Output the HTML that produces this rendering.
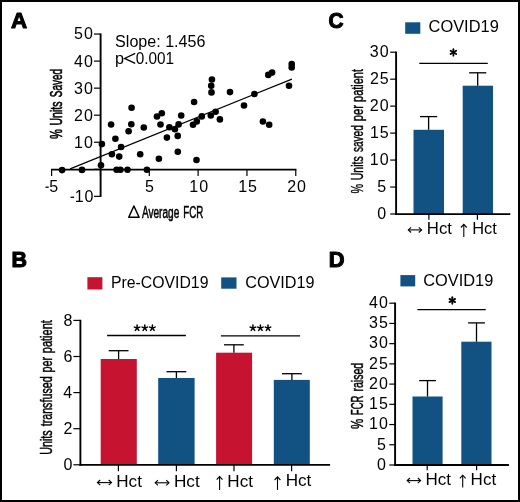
<!DOCTYPE html>
<html><head><meta charset="utf-8"><style>
html,body{margin:0;padding:0;background:#fff;}
svg{display:block;will-change:transform;}
text{font-family:"Liberation Sans", sans-serif;fill:#000;}
</style></head><body>
<svg width="520" height="502" viewBox="0 0 520 502">
<rect x="1" y="1" width="518" height="500" fill="#fff" stroke="#000" stroke-width="2"/>
<text transform="translate(11.00,28.44) scale(0.9894,0.9840)" x="0" y="0" font-size="22.6" font-weight="bold" stroke="#000" stroke-width="1.1" stroke-linejoin="round">A</text>
<text transform="translate(11.49,266.63) scale(0.9520,1.0079)" x="0" y="0" font-size="22.6" font-weight="bold" stroke="#000" stroke-width="1.1" stroke-linejoin="round">B</text>
<text transform="translate(328.59,28.22) scale(0.9226,0.9872)" x="0" y="0" font-size="22.6" font-weight="bold" stroke="#000" stroke-width="1.1" stroke-linejoin="round">C</text>
<text transform="translate(328.67,266.56) scale(0.9684,0.9540)" x="0" y="0" font-size="22.6" font-weight="bold" stroke="#000" stroke-width="1.1" stroke-linejoin="round">D</text>
<line x1="100.60" y1="33.45" x2="100.60" y2="196.95" stroke="#000" stroke-width="1.9" stroke-linecap="butt"/>
<line x1="94.00" y1="34.05" x2="100.60" y2="34.05" stroke="#000" stroke-width="1.2" stroke-linecap="butt"/>
<text x="74.04" y="39.45" font-size="16" letter-spacing="1.0">50</text>
<line x1="94.00" y1="61.10" x2="100.60" y2="61.10" stroke="#000" stroke-width="1.2" stroke-linecap="butt"/>
<text x="74.04" y="66.50" font-size="16" letter-spacing="1.0">40</text>
<line x1="94.00" y1="88.15" x2="100.60" y2="88.15" stroke="#000" stroke-width="1.2" stroke-linecap="butt"/>
<text x="74.04" y="93.55" font-size="16" letter-spacing="1.0">30</text>
<line x1="94.00" y1="115.20" x2="100.60" y2="115.20" stroke="#000" stroke-width="1.2" stroke-linecap="butt"/>
<text x="74.04" y="120.60" font-size="16" letter-spacing="1.0">20</text>
<line x1="94.00" y1="142.25" x2="100.60" y2="142.25" stroke="#000" stroke-width="1.2" stroke-linecap="butt"/>
<text x="74.04" y="147.65" font-size="16" letter-spacing="1.0">10</text>
<line x1="94.00" y1="169.30" x2="100.60" y2="169.30" stroke="#000" stroke-width="1.2" stroke-linecap="butt"/>
<line x1="94.00" y1="196.35" x2="100.60" y2="196.35" stroke="#000" stroke-width="1.2" stroke-linecap="butt"/>
<text x="74.64" y="201.95" font-size="16" letter-spacing="1.0">10</text>
<rect x="70.60" y="196.65" width="3.50" height="1.30" fill="#000"/>
<line x1="51.02" y1="169.60" x2="296.37" y2="169.60" stroke="#000" stroke-width="1.9" stroke-linecap="butt"/>
<line x1="51.62" y1="169.60" x2="51.62" y2="176.00" stroke="#000" stroke-width="1.2" stroke-linecap="butt"/>
<line x1="100.45" y1="169.60" x2="100.45" y2="176.00" stroke="#000" stroke-width="1.2" stroke-linecap="butt"/>
<line x1="149.28" y1="169.60" x2="149.28" y2="176.00" stroke="#000" stroke-width="1.2" stroke-linecap="butt"/>
<text x="145.04" y="191.90" font-size="16">5</text>
<line x1="198.11" y1="169.60" x2="198.11" y2="176.00" stroke="#000" stroke-width="1.2" stroke-linecap="butt"/>
<text x="189.33" y="191.90" font-size="16" letter-spacing="1.0">10</text>
<line x1="246.94" y1="169.60" x2="246.94" y2="176.00" stroke="#000" stroke-width="1.2" stroke-linecap="butt"/>
<text x="238.18" y="191.90" font-size="16" letter-spacing="1.0">15</text>
<line x1="295.77" y1="169.60" x2="295.77" y2="176.00" stroke="#000" stroke-width="1.2" stroke-linecap="butt"/>
<text x="287.19" y="191.90" font-size="16" letter-spacing="1.0">20</text>
<text x="49.36" y="192.10" font-size="16" textLength="8.90" lengthAdjust="spacingAndGlyphs">5</text>
<rect x="45.50" y="186.55" width="3.20" height="1.30" fill="#000"/>
<line x1="70.10" y1="168.90" x2="291.90" y2="79.10" stroke="#000" stroke-width="1.15" stroke-linecap="butt"/>
<circle cx="62.10" cy="170.10" r="3.3" fill="#000"/>
<circle cx="82.00" cy="169.90" r="3.3" fill="#000"/>
<circle cx="101.00" cy="165.30" r="3.3" fill="#000"/>
<circle cx="101.90" cy="144.10" r="3.3" fill="#000"/>
<circle cx="111.10" cy="124.50" r="3.3" fill="#000"/>
<circle cx="115.40" cy="138.80" r="3.3" fill="#000"/>
<circle cx="111.90" cy="154.30" r="3.3" fill="#000"/>
<circle cx="119.20" cy="156.60" r="3.3" fill="#000"/>
<circle cx="121.10" cy="147.00" r="3.3" fill="#000"/>
<circle cx="116.60" cy="169.80" r="3.3" fill="#000"/>
<circle cx="120.40" cy="169.80" r="3.3" fill="#000"/>
<circle cx="127.50" cy="169.80" r="3.3" fill="#000"/>
<circle cx="131.60" cy="107.80" r="3.3" fill="#000"/>
<circle cx="131.30" cy="124.20" r="3.3" fill="#000"/>
<circle cx="128.60" cy="131.20" r="3.3" fill="#000"/>
<circle cx="143.80" cy="127.50" r="3.3" fill="#000"/>
<circle cx="140.20" cy="154.30" r="3.3" fill="#000"/>
<circle cx="146.90" cy="169.80" r="3.3" fill="#000"/>
<circle cx="157.00" cy="116.50" r="3.3" fill="#000"/>
<circle cx="161.80" cy="113.20" r="3.3" fill="#000"/>
<circle cx="160.50" cy="124.50" r="3.3" fill="#000"/>
<circle cx="158.90" cy="158.80" r="3.3" fill="#000"/>
<circle cx="166.90" cy="137.60" r="3.3" fill="#000"/>
<circle cx="169.40" cy="127.20" r="3.3" fill="#000"/>
<circle cx="174.90" cy="129.20" r="3.3" fill="#000"/>
<circle cx="178.60" cy="124.40" r="3.3" fill="#000"/>
<circle cx="177.70" cy="135.90" r="3.3" fill="#000"/>
<circle cx="181.20" cy="115.50" r="3.3" fill="#000"/>
<circle cx="177.80" cy="151.80" r="3.3" fill="#000"/>
<circle cx="194.10" cy="102.00" r="3.3" fill="#000"/>
<circle cx="193.00" cy="124.70" r="3.3" fill="#000"/>
<circle cx="196.80" cy="121.40" r="3.3" fill="#000"/>
<circle cx="196.50" cy="160.00" r="3.3" fill="#000"/>
<circle cx="201.80" cy="116.40" r="3.3" fill="#000"/>
<circle cx="210.80" cy="115.50" r="3.3" fill="#000"/>
<circle cx="215.60" cy="111.80" r="3.3" fill="#000"/>
<circle cx="219.90" cy="119.40" r="3.3" fill="#000"/>
<circle cx="211.90" cy="79.50" r="3.3" fill="#000"/>
<circle cx="211.20" cy="85.70" r="3.3" fill="#000"/>
<circle cx="211.50" cy="92.40" r="3.3" fill="#000"/>
<circle cx="230.00" cy="92.10" r="3.3" fill="#000"/>
<circle cx="254.40" cy="94.00" r="3.3" fill="#000"/>
<circle cx="244.00" cy="105.50" r="3.3" fill="#000"/>
<circle cx="268.30" cy="74.90" r="3.3" fill="#000"/>
<circle cx="272.10" cy="72.60" r="3.3" fill="#000"/>
<circle cx="291.70" cy="64.10" r="3.3" fill="#000"/>
<circle cx="291.70" cy="67.40" r="3.3" fill="#000"/>
<circle cx="289.00" cy="85.70" r="3.3" fill="#000"/>
<circle cx="262.90" cy="121.50" r="3.3" fill="#000"/>
<circle cx="269.20" cy="124.70" r="3.3" fill="#000"/>
<text x="115.08" y="46.50" font-size="16" textLength="90.32" lengthAdjust="spacingAndGlyphs">Slope: 1.456</text>
<text x="114.95" y="63.90" font-size="16" textLength="9.02" lengthAdjust="spacingAndGlyphs">p</text>
<path d="M135.2,53.4 L124.6,58.4 L135.2,63.4" fill="none" stroke="#000" stroke-width="1.25" stroke-linejoin="miter"/>
<text x="135.69" y="63.90" font-size="16" textLength="38.34" lengthAdjust="spacingAndGlyphs">0.001</text>
<text transform="translate(61.70,139.09) rotate(-90)" x="0" y="0" font-size="16" textLength="10.01" lengthAdjust="spacingAndGlyphs" stroke="#000" stroke-width="0.6">%</text>
<text transform="translate(61.70,125.52) rotate(-90)" x="0" y="0" font-size="16" textLength="24.10" lengthAdjust="spacingAndGlyphs" stroke="#000" stroke-width="0.6">Units</text>
<text transform="translate(61.70,97.25) rotate(-90)" x="0" y="0" font-size="16" textLength="28.28" lengthAdjust="spacingAndGlyphs" stroke="#000" stroke-width="0.6">Saved</text>
<path d="M128.75,217.25 L139.1,217.25 L133.9,206.0 Z" fill="none" stroke="#000" stroke-width="1.5" stroke-linejoin="round"/>
<text x="141.95" y="217.80" font-size="16" textLength="37.32" lengthAdjust="spacingAndGlyphs" stroke="#000" stroke-width="0.55">Average</text>
<text x="183.27" y="217.80" font-size="16" textLength="20.02" lengthAdjust="spacingAndGlyphs" stroke="#000" stroke-width="0.55">FCR</text>
<rect x="413.50" y="129.80" width="30.50" height="84.30" fill="#115283"/>
<rect x="462.70" y="85.70" width="30.30" height="128.40" fill="#115283"/>
<line x1="428.60" y1="116.60" x2="428.60" y2="129.80" stroke="#000" stroke-width="1.3" stroke-linecap="butt"/>
<line x1="420.00" y1="116.60" x2="437.20" y2="116.60" stroke="#000" stroke-width="1.3" stroke-linecap="butt"/>
<line x1="477.70" y1="72.80" x2="477.70" y2="85.70" stroke="#000" stroke-width="1.3" stroke-linecap="butt"/>
<line x1="469.10" y1="72.80" x2="486.30" y2="72.80" stroke="#000" stroke-width="1.3" stroke-linecap="butt"/>
<line x1="396.10" y1="51.61" x2="396.10" y2="215.00" stroke="#000" stroke-width="1.9" stroke-linecap="butt"/>
<line x1="390.20" y1="214.00" x2="396.10" y2="214.00" stroke="#000" stroke-width="1.2" stroke-linecap="butt"/>
<text x="377.22" y="218.70" font-size="16">0</text>
<line x1="390.20" y1="187.03" x2="396.10" y2="187.03" stroke="#000" stroke-width="1.2" stroke-linecap="butt"/>
<text x="377.26" y="191.73" font-size="16">5</text>
<line x1="390.20" y1="160.07" x2="396.10" y2="160.07" stroke="#000" stroke-width="1.2" stroke-linecap="butt"/>
<text x="369.84" y="164.77" font-size="16" letter-spacing="1.0">10</text>
<line x1="390.20" y1="133.11" x2="396.10" y2="133.11" stroke="#000" stroke-width="1.2" stroke-linecap="butt"/>
<text x="369.88" y="137.81" font-size="16" letter-spacing="1.0">15</text>
<line x1="390.20" y1="106.14" x2="396.10" y2="106.14" stroke="#000" stroke-width="1.2" stroke-linecap="butt"/>
<text x="369.84" y="110.84" font-size="16" letter-spacing="1.0">20</text>
<line x1="390.20" y1="79.18" x2="396.10" y2="79.18" stroke="#000" stroke-width="1.2" stroke-linecap="butt"/>
<text x="369.88" y="83.88" font-size="16" letter-spacing="1.0">25</text>
<line x1="390.20" y1="52.21" x2="396.10" y2="52.21" stroke="#000" stroke-width="1.2" stroke-linecap="butt"/>
<text x="369.84" y="56.91" font-size="16" letter-spacing="1.0">30</text>
<line x1="395.20" y1="214.10" x2="510.30" y2="214.10" stroke="#000" stroke-width="1.9" stroke-linecap="butt"/>
<line x1="428.90" y1="214.10" x2="428.90" y2="219.80" stroke="#000" stroke-width="1.2" stroke-linecap="butt"/>
<line x1="477.40" y1="214.10" x2="477.40" y2="219.80" stroke="#000" stroke-width="1.2" stroke-linecap="butt"/>
<rect x="405.20" y="22.30" width="15.10" height="11.50" fill="#115283"/>
<text x="428.58" y="32.20" font-size="16" textLength="70.19" lengthAdjust="spacingAndGlyphs">COVID19</text>
<line x1="419.30" y1="63.40" x2="487.80" y2="63.40" stroke="#000" stroke-width="1.3" stroke-linecap="butt"/>
<line x1="453.40" y1="49.15" x2="453.40" y2="55.65" stroke="#000" stroke-width="1.8" stroke-linecap="round"/>
<line x1="450.59" y1="50.77" x2="456.21" y2="54.02" stroke="#000" stroke-width="1.8" stroke-linecap="round"/>
<line x1="456.21" y1="50.77" x2="450.59" y2="54.02" stroke="#000" stroke-width="1.8" stroke-linecap="round"/>
<line x1="408.40" y1="229.90" x2="421.50" y2="229.90" stroke="#000" stroke-width="1.1" stroke-linecap="butt"/>
<path d="M411.10,227.30 L408.30,229.90 L411.10,232.50" fill="none" stroke="#000" stroke-width="1.1"/>
<path d="M418.80,227.30 L421.60,229.90 L418.80,232.50" fill="none" stroke="#000" stroke-width="1.1"/>
<text x="426.82" y="233.80" font-size="16" textLength="25.11" lengthAdjust="spacingAndGlyphs">Hct</text>
<line x1="463.80" y1="224.50" x2="463.80" y2="237.00" stroke="#000" stroke-width="1.1" stroke-linecap="butt"/>
<path d="M460.90,227.50 L463.80,224.40 L466.70,227.50" fill="none" stroke="#000" stroke-width="1.1"/>
<text x="472.15" y="233.80" font-size="16" textLength="24.58" lengthAdjust="spacingAndGlyphs">Hct</text>
<text transform="translate(362.80,193.57) rotate(-90)" x="0" y="0" font-size="16" textLength="9.55" lengthAdjust="spacingAndGlyphs" stroke="#000" stroke-width="0.42">%</text>
<text transform="translate(362.80,180.31) rotate(-90)" x="0" y="0" font-size="16" textLength="24.08" lengthAdjust="spacingAndGlyphs" stroke="#000" stroke-width="0.42">Units</text>
<text transform="translate(362.80,152.07) rotate(-90)" x="0" y="0" font-size="16" textLength="26.79" lengthAdjust="spacingAndGlyphs" stroke="#000" stroke-width="0.42">saved</text>
<text transform="translate(362.80,121.22) rotate(-90)" x="0" y="0" font-size="16" textLength="16.29" lengthAdjust="spacingAndGlyphs" stroke="#000" stroke-width="0.42">per</text>
<text transform="translate(362.80,101.90) rotate(-90)" x="0" y="0" font-size="16" textLength="32.87" lengthAdjust="spacingAndGlyphs" stroke="#000" stroke-width="0.42">patient</text>
<rect x="100.70" y="359.00" width="36.10" height="105.90" fill="#c51330"/>
<rect x="158.20" y="378.00" width="36.40" height="86.90" fill="#115283"/>
<rect x="216.10" y="352.70" width="36.00" height="112.20" fill="#c51330"/>
<rect x="273.80" y="379.90" width="36.00" height="85.00" fill="#115283"/>
<line x1="118.60" y1="350.70" x2="118.60" y2="359.00" stroke="#000" stroke-width="1.3" stroke-linecap="butt"/>
<line x1="108.70" y1="350.70" x2="128.50" y2="350.70" stroke="#000" stroke-width="1.3" stroke-linecap="butt"/>
<line x1="176.40" y1="371.70" x2="176.40" y2="378.00" stroke="#000" stroke-width="1.3" stroke-linecap="butt"/>
<line x1="166.50" y1="371.70" x2="186.30" y2="371.70" stroke="#000" stroke-width="1.3" stroke-linecap="butt"/>
<line x1="233.90" y1="344.80" x2="233.90" y2="352.70" stroke="#000" stroke-width="1.3" stroke-linecap="butt"/>
<line x1="224.00" y1="344.80" x2="243.80" y2="344.80" stroke="#000" stroke-width="1.3" stroke-linecap="butt"/>
<line x1="291.90" y1="373.70" x2="291.90" y2="379.90" stroke="#000" stroke-width="1.3" stroke-linecap="butt"/>
<line x1="282.00" y1="373.70" x2="301.80" y2="373.70" stroke="#000" stroke-width="1.3" stroke-linecap="butt"/>
<line x1="80.40" y1="319.80" x2="80.40" y2="465.80" stroke="#000" stroke-width="1.9" stroke-linecap="butt"/>
<line x1="73.40" y1="464.80" x2="80.40" y2="464.80" stroke="#000" stroke-width="1.2" stroke-linecap="butt"/>
<text x="63.42" y="470.00" font-size="16">0</text>
<line x1="73.40" y1="428.70" x2="80.40" y2="428.70" stroke="#000" stroke-width="1.2" stroke-linecap="butt"/>
<text x="63.62" y="433.90" font-size="16">2</text>
<line x1="73.40" y1="392.60" x2="80.40" y2="392.60" stroke="#000" stroke-width="1.2" stroke-linecap="butt"/>
<text x="63.26" y="397.80" font-size="16">4</text>
<line x1="73.40" y1="356.50" x2="80.40" y2="356.50" stroke="#000" stroke-width="1.2" stroke-linecap="butt"/>
<text x="63.50" y="361.70" font-size="16">6</text>
<line x1="73.40" y1="320.40" x2="80.40" y2="320.40" stroke="#000" stroke-width="1.2" stroke-linecap="butt"/>
<text x="63.50" y="325.60" font-size="16">8</text>
<line x1="79.50" y1="464.90" x2="330.10" y2="464.90" stroke="#000" stroke-width="1.9" stroke-linecap="butt"/>
<line x1="118.40" y1="464.90" x2="118.40" y2="471.20" stroke="#000" stroke-width="1.2" stroke-linecap="butt"/>
<line x1="176.40" y1="464.90" x2="176.40" y2="471.20" stroke="#000" stroke-width="1.2" stroke-linecap="butt"/>
<line x1="234.00" y1="464.90" x2="234.00" y2="471.20" stroke="#000" stroke-width="1.2" stroke-linecap="butt"/>
<line x1="291.60" y1="464.90" x2="291.60" y2="471.20" stroke="#000" stroke-width="1.2" stroke-linecap="butt"/>
<rect x="87.40" y="277.20" width="15.00" height="12.30" fill="#c51330"/>
<text x="111.00" y="288.30" font-size="16" textLength="97.43" lengthAdjust="spacingAndGlyphs">Pre-COVID19</text>
<rect x="221.20" y="277.40" width="15.30" height="11.30" fill="#115283"/>
<text x="245.19" y="288.30" font-size="16" textLength="69.37" lengthAdjust="spacingAndGlyphs">COVID19</text>
<line x1="107.10" y1="335.50" x2="185.90" y2="335.50" stroke="#000" stroke-width="1.3" stroke-linecap="butt"/>
<line x1="220.90" y1="335.90" x2="300.10" y2="335.90" stroke="#000" stroke-width="1.3" stroke-linecap="butt"/>
<line x1="137.10" y1="328.00" x2="137.10" y2="325.10" stroke="#000" stroke-width="1.5" stroke-linecap="round"/>
<line x1="137.10" y1="328.00" x2="139.86" y2="327.10" stroke="#000" stroke-width="1.5" stroke-linecap="round"/>
<line x1="137.10" y1="328.00" x2="138.80" y2="330.35" stroke="#000" stroke-width="1.5" stroke-linecap="round"/>
<line x1="137.10" y1="328.00" x2="135.40" y2="330.35" stroke="#000" stroke-width="1.5" stroke-linecap="round"/>
<line x1="137.10" y1="328.00" x2="134.34" y2="327.10" stroke="#000" stroke-width="1.5" stroke-linecap="round"/>
<line x1="144.80" y1="328.00" x2="144.80" y2="325.10" stroke="#000" stroke-width="1.5" stroke-linecap="round"/>
<line x1="144.80" y1="328.00" x2="147.56" y2="327.10" stroke="#000" stroke-width="1.5" stroke-linecap="round"/>
<line x1="144.80" y1="328.00" x2="146.50" y2="330.35" stroke="#000" stroke-width="1.5" stroke-linecap="round"/>
<line x1="144.80" y1="328.00" x2="143.10" y2="330.35" stroke="#000" stroke-width="1.5" stroke-linecap="round"/>
<line x1="144.80" y1="328.00" x2="142.04" y2="327.10" stroke="#000" stroke-width="1.5" stroke-linecap="round"/>
<line x1="152.40" y1="328.00" x2="152.40" y2="325.10" stroke="#000" stroke-width="1.5" stroke-linecap="round"/>
<line x1="152.40" y1="328.00" x2="155.16" y2="327.10" stroke="#000" stroke-width="1.5" stroke-linecap="round"/>
<line x1="152.40" y1="328.00" x2="154.10" y2="330.35" stroke="#000" stroke-width="1.5" stroke-linecap="round"/>
<line x1="152.40" y1="328.00" x2="150.70" y2="330.35" stroke="#000" stroke-width="1.5" stroke-linecap="round"/>
<line x1="152.40" y1="328.00" x2="149.64" y2="327.10" stroke="#000" stroke-width="1.5" stroke-linecap="round"/>
<line x1="252.90" y1="328.00" x2="252.90" y2="325.10" stroke="#000" stroke-width="1.5" stroke-linecap="round"/>
<line x1="252.90" y1="328.00" x2="255.66" y2="327.10" stroke="#000" stroke-width="1.5" stroke-linecap="round"/>
<line x1="252.90" y1="328.00" x2="254.60" y2="330.35" stroke="#000" stroke-width="1.5" stroke-linecap="round"/>
<line x1="252.90" y1="328.00" x2="251.20" y2="330.35" stroke="#000" stroke-width="1.5" stroke-linecap="round"/>
<line x1="252.90" y1="328.00" x2="250.14" y2="327.10" stroke="#000" stroke-width="1.5" stroke-linecap="round"/>
<line x1="260.40" y1="328.00" x2="260.40" y2="325.10" stroke="#000" stroke-width="1.5" stroke-linecap="round"/>
<line x1="260.40" y1="328.00" x2="263.16" y2="327.10" stroke="#000" stroke-width="1.5" stroke-linecap="round"/>
<line x1="260.40" y1="328.00" x2="262.10" y2="330.35" stroke="#000" stroke-width="1.5" stroke-linecap="round"/>
<line x1="260.40" y1="328.00" x2="258.70" y2="330.35" stroke="#000" stroke-width="1.5" stroke-linecap="round"/>
<line x1="260.40" y1="328.00" x2="257.64" y2="327.10" stroke="#000" stroke-width="1.5" stroke-linecap="round"/>
<line x1="268.00" y1="328.00" x2="268.00" y2="325.10" stroke="#000" stroke-width="1.5" stroke-linecap="round"/>
<line x1="268.00" y1="328.00" x2="270.76" y2="327.10" stroke="#000" stroke-width="1.5" stroke-linecap="round"/>
<line x1="268.00" y1="328.00" x2="269.70" y2="330.35" stroke="#000" stroke-width="1.5" stroke-linecap="round"/>
<line x1="268.00" y1="328.00" x2="266.30" y2="330.35" stroke="#000" stroke-width="1.5" stroke-linecap="round"/>
<line x1="268.00" y1="328.00" x2="265.24" y2="327.10" stroke="#000" stroke-width="1.5" stroke-linecap="round"/>
<line x1="97.50" y1="482.60" x2="111.40" y2="482.60" stroke="#000" stroke-width="1.1" stroke-linecap="butt"/>
<path d="M100.20,480.00 L97.40,482.60 L100.20,485.20" fill="none" stroke="#000" stroke-width="1.1"/>
<path d="M108.70,480.00 L111.50,482.60 L108.70,485.20" fill="none" stroke="#000" stroke-width="1.1"/>
<text x="116.29" y="486.50" font-size="16" textLength="25.64" lengthAdjust="spacingAndGlyphs">Hct</text>
<line x1="155.30" y1="482.80" x2="168.90" y2="482.80" stroke="#000" stroke-width="1.1" stroke-linecap="butt"/>
<path d="M158.00,480.20 L155.20,482.80 L158.00,485.40" fill="none" stroke="#000" stroke-width="1.1"/>
<path d="M166.20,480.20 L169.00,482.80 L166.20,485.40" fill="none" stroke="#000" stroke-width="1.1"/>
<text x="173.98" y="486.60" font-size="16" textLength="25.75" lengthAdjust="spacingAndGlyphs">Hct</text>
<line x1="219.60" y1="476.70" x2="219.60" y2="489.90" stroke="#000" stroke-width="1.1" stroke-linecap="butt"/>
<path d="M216.70,479.70 L219.60,476.60 L222.50,479.70" fill="none" stroke="#000" stroke-width="1.1"/>
<text x="227.39" y="486.50" font-size="16" textLength="25.64" lengthAdjust="spacingAndGlyphs">Hct</text>
<line x1="277.50" y1="477.00" x2="277.50" y2="489.90" stroke="#000" stroke-width="1.1" stroke-linecap="butt"/>
<path d="M274.60,480.00 L277.50,476.90 L280.40,480.00" fill="none" stroke="#000" stroke-width="1.1"/>
<text x="285.69" y="486.40" font-size="16" textLength="25.64" lengthAdjust="spacingAndGlyphs">Hct</text>
<text transform="translate(52.00,454.81) rotate(-90)" x="0" y="0" font-size="16" textLength="24.57" lengthAdjust="spacingAndGlyphs" stroke="#000" stroke-width="0.45">Units</text>
<text transform="translate(52.00,426.34) rotate(-90)" x="0" y="0" font-size="16" textLength="50.00" lengthAdjust="spacingAndGlyphs" stroke="#000" stroke-width="0.45">transfused</text>
<text transform="translate(52.00,372.48) rotate(-90)" x="0" y="0" font-size="16" textLength="15.72" lengthAdjust="spacingAndGlyphs" stroke="#000" stroke-width="0.45">per</text>
<text transform="translate(52.00,353.19) rotate(-90)" x="0" y="0" font-size="16" textLength="33.05" lengthAdjust="spacingAndGlyphs" stroke="#000" stroke-width="0.45">patient</text>
<rect x="412.50" y="396.50" width="30.10" height="68.50" fill="#115283"/>
<rect x="461.30" y="341.70" width="30.20" height="123.30" fill="#115283"/>
<line x1="427.50" y1="380.60" x2="427.50" y2="396.50" stroke="#000" stroke-width="1.3" stroke-linecap="butt"/>
<line x1="419.10" y1="380.60" x2="435.90" y2="380.60" stroke="#000" stroke-width="1.3" stroke-linecap="butt"/>
<line x1="476.50" y1="322.90" x2="476.50" y2="341.70" stroke="#000" stroke-width="1.3" stroke-linecap="butt"/>
<line x1="468.10" y1="322.90" x2="484.90" y2="322.90" stroke="#000" stroke-width="1.3" stroke-linecap="butt"/>
<line x1="395.10" y1="302.60" x2="395.10" y2="465.90" stroke="#000" stroke-width="1.9" stroke-linecap="butt"/>
<line x1="389.30" y1="465.00" x2="395.10" y2="465.00" stroke="#000" stroke-width="1.2" stroke-linecap="butt"/>
<text x="377.02" y="469.75" font-size="16">0</text>
<line x1="389.30" y1="444.77" x2="395.10" y2="444.77" stroke="#000" stroke-width="1.2" stroke-linecap="butt"/>
<text x="377.06" y="449.52" font-size="16">5</text>
<line x1="389.30" y1="424.55" x2="395.10" y2="424.55" stroke="#000" stroke-width="1.2" stroke-linecap="butt"/>
<text x="369.04" y="429.30" font-size="16" letter-spacing="1.0">10</text>
<line x1="389.30" y1="404.32" x2="395.10" y2="404.32" stroke="#000" stroke-width="1.2" stroke-linecap="butt"/>
<text x="369.08" y="409.07" font-size="16" letter-spacing="1.0">15</text>
<line x1="389.30" y1="384.10" x2="395.10" y2="384.10" stroke="#000" stroke-width="1.2" stroke-linecap="butt"/>
<text x="369.04" y="388.85" font-size="16" letter-spacing="1.0">20</text>
<line x1="389.30" y1="363.88" x2="395.10" y2="363.88" stroke="#000" stroke-width="1.2" stroke-linecap="butt"/>
<text x="369.08" y="368.62" font-size="16" letter-spacing="1.0">25</text>
<line x1="389.30" y1="343.65" x2="395.10" y2="343.65" stroke="#000" stroke-width="1.2" stroke-linecap="butt"/>
<text x="369.04" y="348.40" font-size="16" letter-spacing="1.0">30</text>
<line x1="389.30" y1="323.43" x2="395.10" y2="323.43" stroke="#000" stroke-width="1.2" stroke-linecap="butt"/>
<text x="369.08" y="328.18" font-size="16" letter-spacing="1.0">35</text>
<line x1="389.30" y1="303.20" x2="395.10" y2="303.20" stroke="#000" stroke-width="1.2" stroke-linecap="butt"/>
<text x="369.04" y="307.95" font-size="16" letter-spacing="1.0">40</text>
<line x1="394.20" y1="465.00" x2="508.90" y2="465.00" stroke="#000" stroke-width="1.9" stroke-linecap="butt"/>
<line x1="427.20" y1="465.00" x2="427.20" y2="470.30" stroke="#000" stroke-width="1.2" stroke-linecap="butt"/>
<line x1="476.60" y1="465.00" x2="476.60" y2="470.30" stroke="#000" stroke-width="1.2" stroke-linecap="butt"/>
<rect x="400.40" y="275.10" width="14.80" height="11.30" fill="#115283"/>
<text x="423.28" y="285.50" font-size="16" textLength="69.98" lengthAdjust="spacingAndGlyphs">COVID19</text>
<line x1="417.40" y1="309.60" x2="485.70" y2="309.60" stroke="#000" stroke-width="1.3" stroke-linecap="butt"/>
<line x1="452.30" y1="297.25" x2="452.30" y2="303.75" stroke="#000" stroke-width="1.8" stroke-linecap="round"/>
<line x1="449.49" y1="298.88" x2="455.11" y2="302.12" stroke="#000" stroke-width="1.8" stroke-linecap="round"/>
<line x1="455.11" y1="298.88" x2="449.49" y2="302.12" stroke="#000" stroke-width="1.8" stroke-linecap="round"/>
<line x1="407.30" y1="480.60" x2="420.50" y2="480.60" stroke="#000" stroke-width="1.1" stroke-linecap="butt"/>
<path d="M410.00,478.00 L407.20,480.60 L410.00,483.20" fill="none" stroke="#000" stroke-width="1.1"/>
<path d="M417.80,478.00 L420.60,480.60 L417.80,483.20" fill="none" stroke="#000" stroke-width="1.1"/>
<text x="425.50" y="484.50" font-size="16" textLength="25.53" lengthAdjust="spacingAndGlyphs">Hct</text>
<line x1="462.70" y1="475.30" x2="462.70" y2="487.60" stroke="#000" stroke-width="1.1" stroke-linecap="butt"/>
<path d="M459.80,478.30 L462.70,475.20 L465.60,478.30" fill="none" stroke="#000" stroke-width="1.1"/>
<text x="470.60" y="484.50" font-size="16" textLength="25.53" lengthAdjust="spacingAndGlyphs">Hct</text>
<text transform="translate(362.80,429.08) rotate(-90)" x="0" y="0" font-size="16" textLength="10.28" lengthAdjust="spacingAndGlyphs" stroke="#000" stroke-width="0.45">%</text>
<text transform="translate(362.80,415.16) rotate(-90)" x="0" y="0" font-size="16" textLength="19.48" lengthAdjust="spacingAndGlyphs" stroke="#000" stroke-width="0.45">FCR</text>
<text transform="translate(362.80,391.59) rotate(-90)" x="0" y="0" font-size="16" textLength="28.84" lengthAdjust="spacingAndGlyphs" stroke="#000" stroke-width="0.45">raised</text>
</svg>
</body></html>
